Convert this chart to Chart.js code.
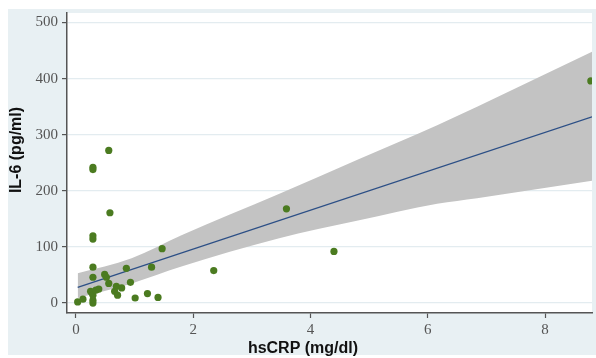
<!DOCTYPE html>
<html>
<head>
<meta charset="utf-8">
<script src="https://cdn.jsdelivr.net/npm/chart.js@4"></script>
<style>
  html, body { margin: 0; padding: 0; background: #fff; overflow: hidden; }
  #wrap { width: 596px; height: 358px; }
</style>
</head>
<body>
<div id="wrap"><canvas id="myChart" width="596" height="358"></canvas></div>
<script>
// observed points: hsCRP (x) vs IL-6 (y)
const hsCRP = [0.03, 0.12, 0.25, 0.27, 0.29, 0.29, 0.29, 0.29, 0.29, 0.29, 0.29, 0.29, 0.29,
  0.34, 0.39, 0.49, 0.52, 0.56, 0.56, 0.58, 0.66, 0.71, 0.69, 0.78, 0.86, 0.93,
  1.01, 1.22, 1.29, 1.40, 1.47, 2.35, 3.59, 4.40, 8.78];
const il6 = [2, 7, 21, 19, 0, 5, 14, 46, 64, 114, 120, 238, 242,
  23, 25, 51, 46, 35, 272, 161, 21, 14, 30, 27, 62, 37,
  9, 17, 64, 10, 97, 58, 168, 92, 396];

// linear fit
const fitX = [0.03, 8.8];
const fitY = [28, 332];

// 95% CI band
const bandX = [0.03, 0.95, 1.8, 3.45, 4.81, 6.16, 6.84, 8.8];
const bandUpper = [53, 80, 121, 194, 256, 317, 350, 448];
const bandLower = [9, 35, 65, 115, 147, 177, 187, 218];

const yTicks = [0, 100, 200, 300, 400, 500];
const xTicks = [0, 2, 4, 6, 8];

const pairs = (xs, ys) => xs.map((x, i) => ({ x: x, y: ys[i] }));

const backdrop = {
  id: 'backdrop',
  beforeDraw(chart) {
    const ctx = chart.ctx, a = chart.chartArea;
    ctx.save();
    ctx.fillStyle = '#ffffff';
    ctx.fillRect(0, 0, chart.width, chart.height);
    ctx.fillStyle = '#e8f0f3';
    ctx.fillRect(8, 9, chart.width - 8, 346);
    ctx.fillStyle = '#ffffff';
    ctx.fillRect(a.left, a.top, a.right - a.left, a.bottom - a.top);
    ctx.restore();
  },
  afterDraw(chart) {
    const ctx = chart.ctx;
    ctx.save();
    ctx.fillStyle = '#111';
    ctx.font = 'bold 16px "Liberation Sans", Arial, sans-serif';
    ctx.textAlign = 'center';
    ctx.textBaseline = 'middle';
    ctx.fillText('hsCRP (mg/dl)', 303, 349);
    ctx.translate(17, 150);
    ctx.rotate(-Math.PI / 2);
    ctx.fillText('IL-6 (pg/ml)', 0, 0);
    ctx.restore();
  }
};

const tickFont = { family: '"Liberation Serif", "Times New Roman", serif', size: 15 };

let myChart = new Chart(
  document.getElementById('myChart'),
  {
    type: 'scatter',
    data: {
      datasets: [
        {
          label: 'IL-6',
          data: pairs(hsCRP, il6),
          backgroundColor: '#4b7b20',
          borderWidth: 0,
          pointRadius: 3.6,
          order: 0
        },
        {
          label: 'Fitted values',
          data: pairs(fitX, fitY),
          showLine: true,
          borderColor: '#2c4f86',
          borderWidth: 1.3,
          pointRadius: 0,
          order: 1
        },
        {
          label: 'lower',
          data: pairs(bandX, bandLower),
          showLine: true,
          cubicInterpolationMode: 'monotone',
          borderWidth: 0,
          borderColor: 'rgba(0,0,0,0)',
          pointRadius: 0,
          order: 3
        },
        {
          label: '95% CI',
          data: pairs(bandX, bandUpper),
          showLine: true,
          cubicInterpolationMode: 'monotone',
          borderWidth: 0,
          borderColor: 'rgba(0,0,0,0)',
          backgroundColor: '#c3c3c3',
          fill: 2,
          pointRadius: 0,
          order: 2
        }
      ]
    },
    options: {
      responsive: false,
      animation: false,
      events: [],
      layout: { padding: { left: 0, top: 11, right: 0, bottom: 0 } },
      plugins: {
        legend: { display: false },
        tooltip: { enabled: false }
      },
      scales: {
        x: {
          type: 'linear',
          min: -0.152,
          max: 8.8,
          afterFit(scale) { scale.height = 45; },
          afterBuildTicks(scale) { scale.ticks = xTicks.map(v => ({ value: v })); },
          border: { color: '#555', width: 1.5 },
          grid: { drawOnChartArea: false, tickLength: 5, tickColor: '#555', tickWidth: 1.2 },
          ticks: { color: '#555', font: tickFont, padding: 3, maxRotation: 0 }
        },
        y: {
          min: -17.7,
          max: 517,
          afterFit(scale) { scale.width = 67; },
          afterBuildTicks(scale) { scale.ticks = yTicks.map(v => ({ value: v })); },
          border: { color: '#555', width: 1.5 },
          grid: { color: '#e3ecf0', lineWidth: 1.2, tickLength: 5, tickColor: '#555', tickWidth: 1.2 },
          ticks: { color: '#555', font: tickFont, padding: 4 }
        }
      }
    },
    plugins: [backdrop]
  }
);
</script>
</body>
</html>
